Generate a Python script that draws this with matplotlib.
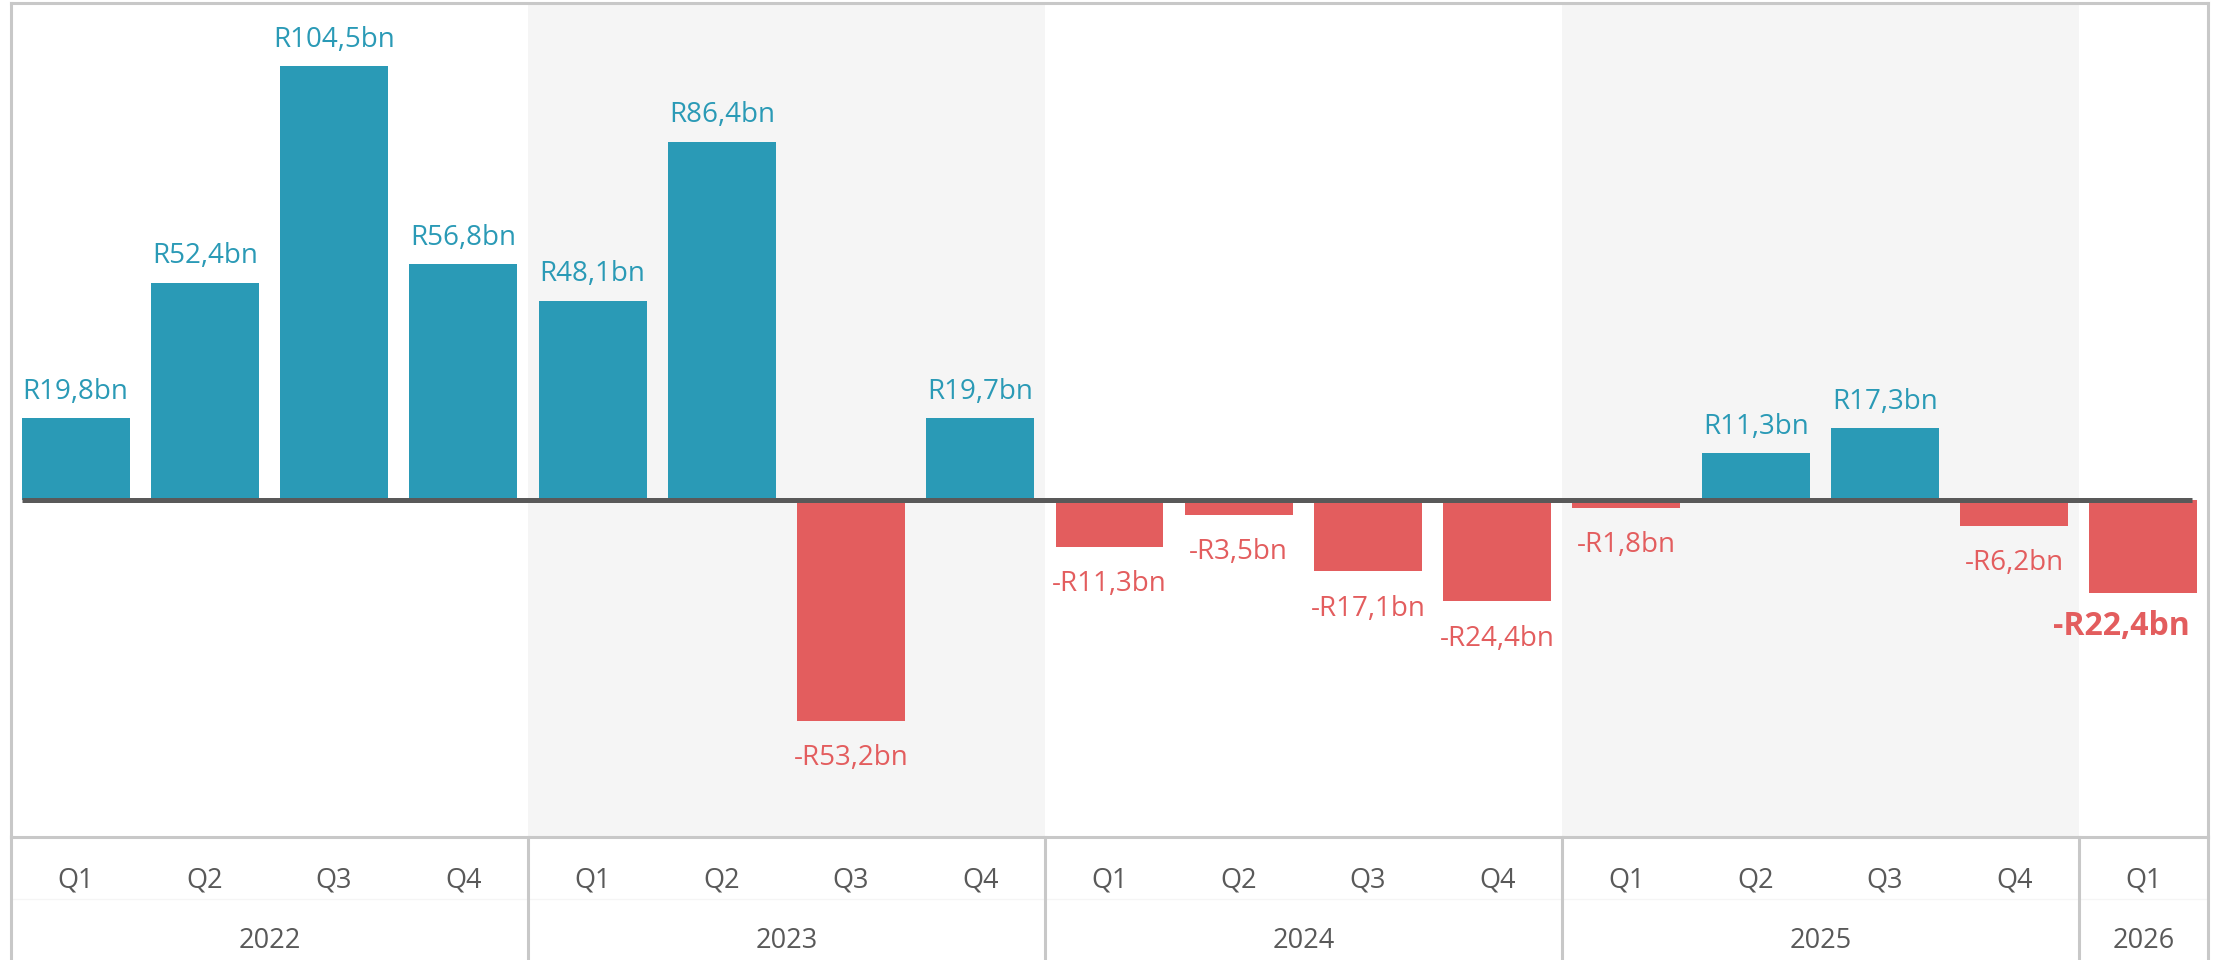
import matplotlib
matplotlib.use("Agg")
import matplotlib.pyplot as plt
from matplotlib.lines import Line2D

QUARTERS = ["Q1", "Q2", "Q3", "Q4",
            "Q1", "Q2", "Q3", "Q4",
            "Q1", "Q2", "Q3", "Q4",
            "Q1", "Q2", "Q3", "Q4",
            "Q1"]
YEARS = ["2022", "2023", "2024", "2025", "2026"]
YEAR_SPAN = [4, 4, 4, 4, 1]
VALUES = [19.8, 52.4, 104.5, 56.8,
          48.1, 86.4, -53.2, 19.7,
          -11.3, -3.5, -17.1, -24.4,
          -1.8, 11.3, 17.3, -6.2,
          -22.4]

BLUE = "#2a9ab6"
RED = "#e35d5e"
GRID = "#c8c8c8"
TXT = "#595959"

plt.rcParams["font.family"] = ["Open Sans", "DejaVu Sans"]


def fmt(v):
    s = f"R{abs(v):.1f}bn".replace(".", ",")
    return "-" + s if v < 0 else s


def main():
    W, H = 2216, 960
    fig = plt.figure(figsize=(W / 100, H / 100), dpi=100)
    left, right, top, bottom = 11, 2208, 3, 837
    ax = fig.add_axes([left / W, 1 - bottom / H, (right - left) / W, (bottom - top) / H])
    ax.set_xlim(-0.5, len(VALUES) - 0.5)
    ax.set_ylim(-81.2, 119.8)

    # shaded year bands
    start = 0
    for i, span in enumerate(YEAR_SPAN):
        if i % 2 == 1:
            ax.axvspan(start - 0.5, start + span - 0.5, color="#f5f5f5", zorder=0, lw=0)
        start += span

    x = list(range(len(VALUES)))
    colors = [BLUE if v >= 0 else RED for v in VALUES]
    ax.bar(x, VALUES, width=0.835, color=colors, zorder=2)
    ax.plot([-0.418, len(VALUES) - 1 + 0.38], [0, 0], color=TXT, lw=3.6,
            solid_capstyle="butt", zorder=3)

    for i, v in enumerate(VALUES):
        last = i == len(VALUES) - 1
        if v >= 0:
            ax.annotate(fmt(v), (i, v), xytext=(0, 19), textcoords="offset points",
                        ha="center", va="center", fontsize=20, color=BLUE)
        elif last:
            ax.annotate(fmt(v), (i, v), xytext=(-16, -24),
                        textcoords="offset points", ha="center", va="center",
                        fontsize=23, color=RED, fontweight="bold")
        else:
            ax.annotate(fmt(v), (i, v), xytext=(0, -27),
                        textcoords="offset points", ha="center", va="center",
                        fontsize=20, color=RED)

    ax.set_xticks([])
    ax.set_yticks([])
    for s in ax.spines.values():
        s.set_color(GRID)
        s.set_linewidth(2.2)

    trans = ax.get_xaxis_transform()
    ybot = -0.16
    for i, q in enumerate(QUARTERS):
        ax.text(i, -0.052, q, transform=trans, ha="center", va="center",
                fontsize=19.5, color=TXT, clip_on=False)

    ax.add_line(Line2D([-0.5, len(VALUES) - 0.5], [-0.0745, -0.0745], transform=trans,
                       color="#f5f5f5", lw=1, clip_on=False, zorder=0))

    start = 0
    edges = [-0.5]
    for yr, span in zip(YEARS, YEAR_SPAN):
        ax.text(start + (span - 1) / 2, -0.125, yr, transform=trans, ha="center",
                va="center", fontsize=19.5, color=TXT, clip_on=False)
        start += span
        edges.append(start - 0.5)
    for e in edges:
        ax.add_line(Line2D([e, e], [0, ybot], transform=trans, color=GRID,
                           lw=2.2, clip_on=False))

    fig.savefig("out.png", dpi=100, facecolor="white")


if __name__ == "__main__":
    main()
